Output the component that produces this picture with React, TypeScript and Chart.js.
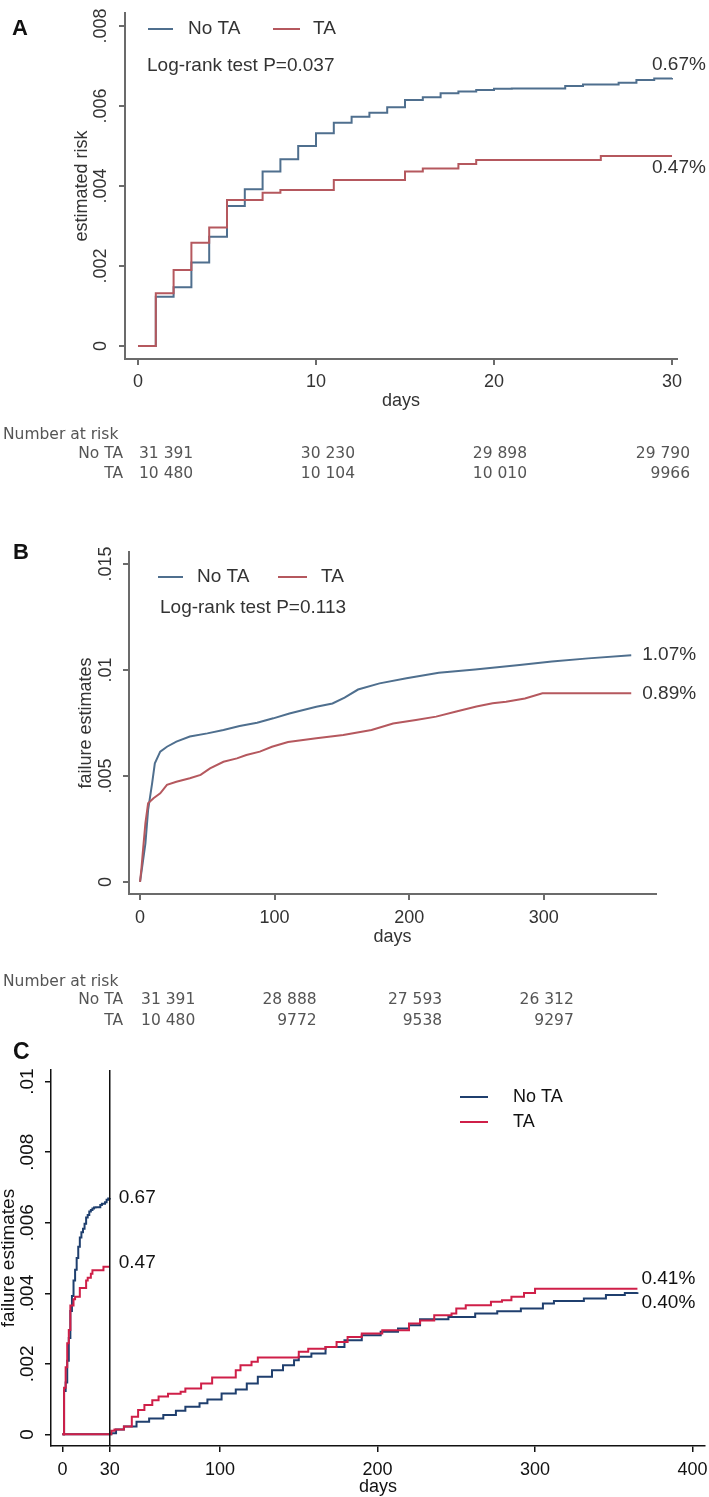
import React, { useEffect, useRef } from "react";
import { Chart, registerables } from "chart.js";
Chart.register(...registerables);

const W = 709;
const SANS = "'Liberation Sans', Arial, sans-serif";
const TABLE_FONT = "'DejaVu Sans', sans-serif";

// ---------- Panel A : 30-day risk ----------
const aDayTicks = [0, 10, 20, 30];
const aRiskTicks = [0, 0.002, 0.004, 0.006, 0.008];
const aRiskTickLabels = ["0", ".002", ".004", ".006", ".008"];
const aNoTaDays = [0, 1, 2, 3, 4, 5, 6, 7, 8, 9, 10, 11, 12, 13, 14, 15, 16, 17, 18, 19, 20, 21, 24, 25, 27, 28, 29, 30];
const aNoTaRisk = [0, 0.00123, 0.00147, 0.00209, 0.00273, 0.0035, 0.00392, 0.00436, 0.00467, 0.005, 0.00532, 0.00558, 0.00573, 0.00583, 0.00597, 0.00615, 0.00622, 0.00632, 0.00636, 0.0064, 0.00643, 0.00644, 0.0065, 0.00654, 0.00658, 0.00665, 0.00669, 0.0067];
const aTaDays = [0, 1, 2, 3, 4, 5, 7, 8, 11, 15, 16, 18, 19, 26, 30];
const aTaRisk = [0, 0.00132, 0.0019, 0.00258, 0.00296, 0.00365, 0.00383, 0.0039, 0.00415, 0.00436, 0.00444, 0.00455, 0.00465, 0.00475, 0.00475];
const aAtRiskNoTa = ["31 391", "30 230", "29 898", "29 790"];
const aAtRiskTa = ["10 480", "10 104", "10 010", "9966"];

// ---------- Panel B : 1-year failure ----------
const bDayTicks = [0, 100, 200, 300];
const bRiskTicks = [0, 0.005, 0.01, 0.015];
const bRiskTickLabels = ["0", ".005", ".01", ".015"];
const bNoTaDays = [0, 2, 4, 6, 9, 11, 15, 20, 27, 37, 50, 62, 74, 87, 99, 111, 131, 143, 152, 162, 178, 198, 222, 249, 282, 306, 333, 365];
const bNoTaRisk = [0, 0.0009, 0.00182, 0.0034, 0.00466, 0.0056, 0.00615, 0.00638, 0.00662, 0.00686, 0.00701, 0.00717, 0.00736, 0.00751, 0.00772, 0.00795, 0.00827, 0.00842, 0.0087, 0.00908, 0.00937, 0.00961, 0.00987, 0.01003, 0.01024, 0.0104, 0.01055, 0.0107];
const bTaDays = [0, 1, 2, 4, 6, 10, 15, 20, 27, 37, 45, 52, 62, 72, 79, 89, 98, 110, 131, 151, 172, 188, 205, 220, 235, 250, 262, 272, 286, 299, 365];
const bTaRisk = [0, 0.0006, 0.00135, 0.00277, 0.00371, 0.00395, 0.00418, 0.00458, 0.00473, 0.00489, 0.00505, 0.00536, 0.00567, 0.00583, 0.00599, 0.00615, 0.00638, 0.0066, 0.00678, 0.00693, 0.00717, 0.00748, 0.00764, 0.0078, 0.00804, 0.00828, 0.00843, 0.0085, 0.00866, 0.0089, 0.0089];
const bAtRiskNoTa = ["31 391", "28 888", "27 593", "26 312"];
const bAtRiskTa = ["10 480", "9772", "9538", "9297"];

// ---------- Panel C : landmark analysis ----------
const cDayTicks = [0, 30, 100, 200, 300, 400];
const cRiskTicks = [0, 0.002, 0.004, 0.006, 0.008, 0.01];
const cRiskTickLabels = ["0", ".002", ".004", ".006", ".008", ".01"];
const cLandmarkDay = 30;
const cEarlyNoTaDays = aNoTaDays;
const cEarlyNoTaRisk = aNoTaRisk;
const cEarlyTaDays = aTaDays;
const cEarlyTaRisk = aTaRisk;
const cLateNoTaDays = [0, 31, 34, 39, 47, 55, 64, 72, 78, 87, 92, 101, 110, 117, 124, 133, 140, 147, 150, 158, 167, 179, 190, 202, 213, 220, 227, 245, 262, 276, 291, 305, 312, 331, 345, 357, 365];
const cLateNoTaRisk = [0, 0.00003, 0.00014, 0.00022, 0.00036, 0.00045, 0.00055, 0.00067, 0.00078, 0.00088, 0.00099, 0.00116, 0.00127, 0.00144, 0.00163, 0.00182, 0.00196, 0.0021, 0.0022, 0.00229, 0.00248, 0.00267, 0.00281, 0.00291, 0.003, 0.00309, 0.00326, 0.00333, 0.00343, 0.00349, 0.00357, 0.00371, 0.00378, 0.00385, 0.00395, 0.00401, 0.00403];
const cLateTaDays = [0, 31, 33, 39, 44, 48, 52, 57, 61, 67, 75, 78, 88, 95, 110, 113, 120, 124, 150, 156, 167, 174, 181, 190, 203, 220, 227, 236, 247, 250, 256, 272, 279, 285, 293, 300, 365];
const cLateTaRisk = [0, 0.0001, 0.00014, 0.00022, 0.0005, 0.00069, 0.00083, 0.00097, 0.00107, 0.00115, 0.00121, 0.0013, 0.00144, 0.00161, 0.00182, 0.00196, 0.00206, 0.00218, 0.00234, 0.00243, 0.00248, 0.00262, 0.00276, 0.00286, 0.00295, 0.00314, 0.00323, 0.00338, 0.00343, 0.00357, 0.00366, 0.00376, 0.0038, 0.0039, 0.00401, 0.00413, 0.00413];

const AB_BLUE = "#4f6f8e";
const AB_RED = "#b5585e";
const C_BLUE = "#1f3f6e";
const C_RED = "#cf1f48";
const AB_AXIS = "#6b6b6b";
const AB_TEXT = "#333333";
const TABLE_TEXT = "#555555";

const pts = (xs: number[], ys: number[]) => xs.map((x, i) => ({ x, y: ys[i] }));
const last = (a: number[]) => a[a.length - 1];

function txt(ctx: CanvasRenderingContext2D, s: string, x: number, y: number, font: string, color: string, align: CanvasTextAlign = "left") {
  ctx.save();
  ctx.font = font;
  ctx.fillStyle = color;
  ctx.textAlign = align;
  ctx.textBaseline = "middle";
  ctx.fillText(s, x, y);
  ctx.restore();
}
function rot(ctx: CanvasRenderingContext2D, s: string, x: number, y: number, font: string, color: string) {
  ctx.save();
  ctx.translate(x, y);
  ctx.rotate(-Math.PI / 2);
  ctx.font = font;
  ctx.fillStyle = color;
  ctx.textAlign = "center";
  ctx.textBaseline = "middle";
  ctx.fillText(s, 0, 0);
  ctx.restore();
}
function seg(ctx: CanvasRenderingContext2D, x1: number, y1: number, x2: number, y2: number, color: string, w: number) {
  ctx.save();
  ctx.strokeStyle = color;
  ctx.lineWidth = w;
  ctx.beginPath();
  ctx.moveTo(x1, y1);
  ctx.lineTo(x2, y2);
  ctx.stroke();
  ctx.restore();
}

type PanelCfg = {
  top: number;
  height: number;
  area: { l: number; t: number; r: number; b: number };
  tickPad: number;
  titleCenter: number;
  xMin: number; xMax: number; yMin: number; yMax: number;
  xTicks: number[]; yTicks: number[];
  axisColor: string; axisWidth: number; textColor: string;
  tickSize: number; titleSize: number;
  datasets: any[];
  overlay: (chart: any) => void;
};

function buildConfig(p: PanelCfg): any {
  const titleBottom = p.titleCenter + p.titleSize / 2;
  const gridOpts = {
    display: true,
    drawOnChartArea: false,
    drawTicks: true,
    tickLength: 6,
    color: p.axisColor,
    tickColor: p.axisColor,
    lineWidth: p.axisWidth,
  };
  const border = { display: true, color: p.axisColor, width: p.axisWidth };
  return {
    type: "line",
    data: { datasets: p.datasets },
    options: {
      responsive: false,
      maintainAspectRatio: false,
      animation: false,
      events: [],
      layout: { padding: { left: 0, top: p.area.t, right: W - p.area.r, bottom: p.height - titleBottom } },
      plugins: { legend: { display: false }, tooltip: { enabled: false }, title: { display: false } },
      elements: { point: { radius: 0 } },
      scales: {
        x: {
          type: "linear",
          position: "bottom",
          min: p.xMin,
          max: p.xMax,
          afterBuildTicks: (s: any) => { s.ticks = p.xTicks.map((v) => ({ value: v })); },
          afterFit: (s: any) => {
            s.height = titleBottom - p.area.b;
            s.paddingLeft = 0; s.paddingRight = 0; s.paddingTop = 0; s.paddingBottom = 0;
          },
          ticks: {
            autoSkip: false, maxRotation: 0, minRotation: 0, padding: p.tickPad,
            color: p.textColor, font: { family: SANS, size: p.tickSize, lineHeight: 1 },
            callback: (v: any) => String(v),
          },
          grid: gridOpts,
          border,
          title: { display: true, text: "days", color: p.textColor, padding: 0, font: { family: SANS, size: p.titleSize, lineHeight: 1 } },
        },
        y: {
          type: "linear",
          position: "left",
          min: p.yMin,
          max: p.yMax,
          afterBuildTicks: (s: any) => { s.ticks = p.yTicks.map((v) => ({ value: v })); },
          afterFit: (s: any) => {
            s.width = p.area.l;
            s.paddingLeft = 0; s.paddingRight = 0; s.paddingTop = 0; s.paddingBottom = 0;
          },
          ticks: { display: false },
          grid: gridOpts,
          border,
        },
      },
    },
    plugins: [{ id: "overlay", afterDraw: (chart: any) => p.overlay(chart) }],
  };
}

function Panel({ cfg }: { cfg: PanelCfg }) {
  const ref = useRef<HTMLCanvasElement>(null);
  useEffect(() => {
    const chart = new Chart(ref.current as HTMLCanvasElement, buildConfig(cfg));
    return () => chart.destroy();
  }, []);
  return (
    <canvas
      ref={ref}
      width={W}
      height={cfg.height}
      style={{ position: "absolute", left: 0, top: cfg.top, width: W, height: cfg.height }}
    />
  );
}

function line(xs: number[], ys: number[], color: string, stepped: boolean) {
  return { data: pts(xs, ys), borderColor: color, borderWidth: 2, stepped, pointRadius: 0, fill: false, tension: 0 };
}

function riskTable(ctx: CanvasRenderingContext2D, xs: any, ticks: number[], rowsY: number[], noTa: string[], ta: string[], offsets: number[]) {
  const f = `15.5px ${TABLE_FONT}`;
  txt(ctx, "Number at risk", 3, rowsY[0], f, TABLE_TEXT);
  txt(ctx, "No TA", 123, rowsY[1], f, TABLE_TEXT, "right");
  txt(ctx, "TA", 123, rowsY[2], f, TABLE_TEXT, "right");
  ticks.forEach((t, i) => {
    const x = xs.getPixelForValue(t) + offsets[i];
    const al: CanvasTextAlign = i === 0 ? "left" : "right";
    txt(ctx, noTa[i], x, rowsY[1], f, TABLE_TEXT, al);
    txt(ctx, ta[i], x, rowsY[2], f, TABLE_TEXT, al);
  });
}

const panelA: PanelCfg = {
  top: 0,
  height: 490,
  area: { l: 125, t: 13, r: 677, b: 359 },
  tickPad: 8,
  titleCenter: 401,
  xMin: -0.73, xMax: 30.28, yMin: -0.000325, yMax: 0.008325,
  xTicks: aDayTicks, yTicks: aRiskTicks,
  axisColor: AB_AXIS, axisWidth: 2, textColor: AB_TEXT, tickSize: 18, titleSize: 18,
  datasets: [line(aTaDays, aTaRisk, AB_RED, true), line(aNoTaDays, aNoTaRisk, AB_BLUE, true)],
  overlay: (chart) => {
    const ctx = chart.ctx as CanvasRenderingContext2D;
    const xs = chart.scales.x, ys = chart.scales.y, ca = chart.chartArea;
    aRiskTicks.forEach((v, i) => rot(ctx, aRiskTickLabels[i], 101, ys.getPixelForValue(v), `18px ${SANS}`, AB_TEXT));
    rot(ctx, "estimated risk", 82, (ca.top + ca.bottom) / 2, `18px ${SANS}`, AB_TEXT);
    txt(ctx, "A", 12, 29, `bold 22px ${SANS}`, "#111");
    seg(ctx, 148, 29, 173, 29, AB_BLUE, 2);
    txt(ctx, "No TA", 188, 29, `19px ${SANS}`, AB_TEXT);
    seg(ctx, 273, 29, 300, 29, AB_RED, 2);
    txt(ctx, "TA", 313, 29, `19px ${SANS}`, AB_TEXT);
    txt(ctx, "Log-rank test P=0.037", 147, 66, `19px ${SANS}`, AB_TEXT);
    const xe = xs.getPixelForValue(30) - 20;
    txt(ctx, "0.67%", xe, ys.getPixelForValue(last(aNoTaRisk)) - 13, `19px ${SANS}`, AB_TEXT);
    txt(ctx, "0.47%", xe, ys.getPixelForValue(last(aTaRisk)) + 12, `19px ${SANS}`, AB_TEXT);
    riskTable(ctx, xs, aDayTicks, [435, 454, 474], aAtRiskNoTa, aAtRiskTa, [1, 39, 33, 18]);
  },
};

const panelB: PanelCfg = {
  top: 490,
  height: 540,
  area: { l: 129, t: 62, r: 656, b: 404 },
  tickPad: 9,
  titleCenter: 447,
  xMin: -8.2, xMax: 383.4, yMin: -0.00057, yMax: 0.01557,
  xTicks: bDayTicks, yTicks: bRiskTicks,
  axisColor: AB_AXIS, axisWidth: 2, textColor: AB_TEXT, tickSize: 18, titleSize: 18,
  datasets: [line(bTaDays, bTaRisk, AB_RED, false), line(bNoTaDays, bNoTaRisk, AB_BLUE, false)],
  overlay: (chart) => {
    const ctx = chart.ctx as CanvasRenderingContext2D;
    const xs = chart.scales.x, ys = chart.scales.y, ca = chart.chartArea;
    bRiskTicks.forEach((v, i) => rot(ctx, bRiskTickLabels[i], 106, ys.getPixelForValue(v), `18px ${SANS}`, AB_TEXT));
    rot(ctx, "failure estimates", 86, (ca.top + ca.bottom) / 2, `18px ${SANS}`, AB_TEXT);
    txt(ctx, "B", 13, 63, `bold 22px ${SANS}`, "#111");
    seg(ctx, 158, 87, 183, 87, AB_BLUE, 2);
    txt(ctx, "No TA", 197, 87, `19px ${SANS}`, AB_TEXT);
    seg(ctx, 278, 87, 307, 87, AB_RED, 2);
    txt(ctx, "TA", 321, 87, `19px ${SANS}`, AB_TEXT);
    txt(ctx, "Log-rank test P=0.113", 160, 118, `19px ${SANS}`, AB_TEXT);
    const xe = xs.getPixelForValue(365) + 11;
    txt(ctx, "1.07%", xe, ys.getPixelForValue(last(bNoTaRisk)), `19px ${SANS}`, AB_TEXT);
    txt(ctx, "0.89%", xe, ys.getPixelForValue(last(bTaRisk)), `19px ${SANS}`, AB_TEXT);
    riskTable(ctx, xs, bDayTicks, [492, 510, 531], bAtRiskNoTa, bAtRiskTa, [1, 42, 33, 30]);
  },
};

const panelC: PanelCfg = {
  top: 1030,
  height: 467,
  area: { l: 51, t: 40, r: 705, b: 416 },
  tickPad: 9,
  titleCenter: 457,
  xMin: -7.3, xMax: 407.9, yMin: -0.00033, yMax: 0.01033,
  xTicks: cDayTicks, yTicks: cRiskTicks,
  axisColor: "#111111", axisWidth: 1.5, textColor: "#111111", tickSize: 18, titleSize: 18,
  datasets: [
    line(cEarlyTaDays, cEarlyTaRisk, C_RED, true),
    line(cLateTaDays, cLateTaRisk, C_RED, true),
    line(cEarlyNoTaDays, cEarlyNoTaRisk, C_BLUE, true),
    line(cLateNoTaDays, cLateNoTaRisk, C_BLUE, true),
  ],
  overlay: (chart) => {
    const ctx = chart.ctx as CanvasRenderingContext2D;
    const xs = chart.scales.x, ys = chart.scales.y, ca = chart.chartArea;
    const xl = xs.getPixelForValue(cLandmarkDay);
    seg(ctx, xl, ca.top, xl, ca.bottom, "#111", 1.5);
    cRiskTicks.forEach((v, i) => rot(ctx, cRiskTickLabels[i], 28, ys.getPixelForValue(v), `19px ${SANS}`, "#111"));
    rot(ctx, "failure estimates", 9, (ca.top + ca.bottom) / 2, `19px ${SANS}`, "#111");
    txt(ctx, "C", 13, 23, `bold 23px ${SANS}`, "#111");
    seg(ctx, 460, 67, 488, 67, C_BLUE, 2);
    txt(ctx, "No TA", 513, 67, `18px ${SANS}`, "#111");
    seg(ctx, 460, 92, 488, 92, C_RED, 2);
    txt(ctx, "TA", 513, 92, `18px ${SANS}`, "#111");
    txt(ctx, "0.67", xl + 9, ys.getPixelForValue(last(cEarlyNoTaRisk)), `19px ${SANS}`, "#111");
    txt(ctx, "0.47", xl + 9, ys.getPixelForValue(last(cEarlyTaRisk)) - 4, `19px ${SANS}`, "#111");
    const xe = xs.getPixelForValue(365) + 4;
    txt(ctx, "0.41%", xe, ys.getPixelForValue(last(cLateTaRisk)) - 10, `19px ${SANS}`, "#111");
    txt(ctx, "0.40%", xe, ys.getPixelForValue(last(cLateNoTaRisk)) + 11, `19px ${SANS}`, "#111");
  },
};

export default function App() {
  return (
    <div style={{ position: "absolute", left: 0, top: 0, width: W, height: 1497, background: "#ffffff", overflow: "hidden" }}>
      <Panel cfg={panelA} />
      <Panel cfg={panelB} />
      <Panel cfg={panelC} />
    </div>
  );
}
